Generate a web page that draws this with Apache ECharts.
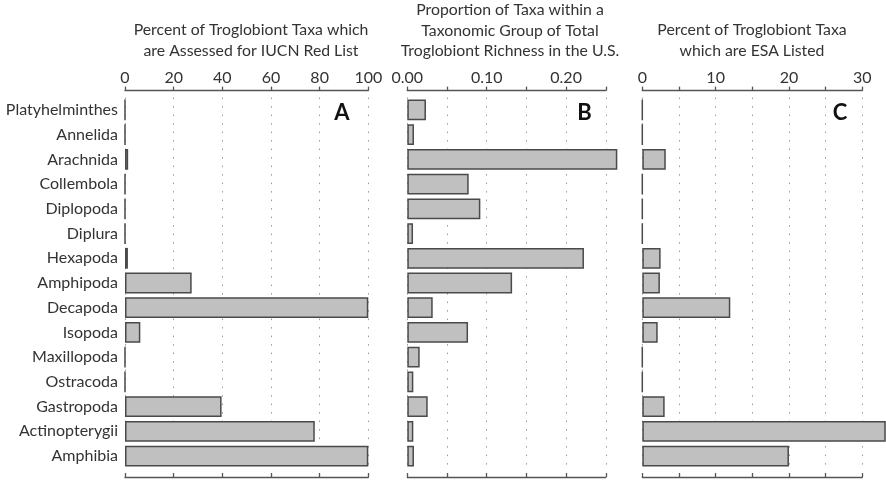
<!DOCTYPE html>
<html>
<head>
<meta charset="utf-8">
<script src="https://cdn.jsdelivr.net/npm/echarts@6/dist/echarts.min.js"></script>
<style>html,body{margin:0;padding:0;background:#fff}#c{width:886px;height:482px}</style>
</head>
<body>
<div id="c"></div>
<script>
var categories = ['Platyhelminthes','Annelida','Arachnida','Collembola','Diplopoda','Diplura','Hexapoda','Amphipoda','Decapoda','Isopoda','Maxillopoda','Ostracoda','Gastropoda','Actinopterygii','Amphibia'];
var iucnPercent = [0, 0, 1.3, 0, 0, 0, 1.2, 27.4, 100, 6.3, 0, 0, 39.7, 78.0, 100];
var richnessProportion = [0.0235, 0.0084, 0.2645, 0.0773, 0.092, 0.0072, 0.2225, 0.132, 0.032, 0.0765, 0.0156, 0.0076, 0.0257, 0.0076, 0.0084];
var esaPercent = [0, 0, 3.2, 0, 0, 0, 2.5, 2.4, 12.0, 2.1, 0, 0, 3.05, 33.2, 20.0];
var titleA = 'Percent of Troglobiont Taxa which\nare Assessed for IUCN Red List';
var titleB = 'Proportion of Taxa within a\nTaxonomic Group of Total\nTroglobiont Richness in the U.S.';
var titleC = 'Percent of Troglobiont Taxa\nwhich are ESA Listed';
var panelLetters = ['A', 'B', 'C'];

var FONT = 'Lato';
var TXT = '#333';
var grids = [
  {left: 125, width: 243.3, top: 97.6, bottom: 13.6},
  {left: 407.3, width: 198.5, top: 97.6, bottom: 13.6},
  {left: 642.3, width: 220, top: 97.6, bottom: 13.6}
];
var axisCfg = [
  {max: 100, interval: 20, fmt: function (v) { return String(v); }},
  {max: 0.25, interval: 0.05, fmt: function (v) { var k = Math.round(v * 100); return k % 10 === 0 ? v.toFixed(2) : ''; }},
  {max: 30, interval: 5, fmt: function (v) { return v % 10 === 0 ? String(v) : ''; }}
];
var xAxes = [], yAxes = [], series = [];
var dataSets = [iucnPercent, richnessProportion, esaPercent];
for (var i = 0; i < 3; i++) {
  xAxes.push({
    type: 'value', gridIndex: i, position: 'top', min: 0, max: axisCfg[i].max, interval: axisCfg[i].interval,
    offset: 7,
    axisLine: {show: true, lineStyle: {color: '#555', width: 1.3}},
    axisTick: {show: true, inside: false, length: 4, lineStyle: {color: '#555', width: 1.3}},
    axisLabel: {show: true, formatter: axisCfg[i].fmt, fontFamily: FONT, fontSize: 16, color: TXT, margin: 5},
    splitLine: {show: true, lineStyle: {type: [1.5, 7], color: '#999', width: 1}}
  });
  xAxes.push({
    type: 'value', gridIndex: i, position: 'bottom', min: 0, max: axisCfg[i].max, interval: axisCfg[i].interval,
    offset: 8.6,
    axisLine: {show: true, lineStyle: {color: '#555', width: 1.3}},
    axisTick: {show: true, inside: true, length: 4, lineStyle: {color: '#555', width: 1.3}},
    axisLabel: {show: false},
    splitLine: {show: false}
  });
  yAxes.push({
    type: 'category', gridIndex: i, data: categories, inverse: true,
    axisLine: {show: false}, axisTick: {show: false},
    axisLabel: {show: i === 0, fontFamily: FONT, fontSize: 16, color: TXT, margin: 7}
  });
  series.push({
    type: 'bar', xAxisIndex: i * 2, yAxisIndex: i, data: dataSets[i], barWidth: '84%', clip: false,
    itemStyle: {color: '#c0c0c0', borderColor: '#4a4a4a', borderWidth: 1.5},
    silent: true, animation: false
  });
}
var titleStyle = {fontFamily: FONT, fontSize: 15.8, fontWeight: 'normal', color: TXT, lineHeight: 20.5};
var letterStyle = {fontFamily: FONT, fontSize: 22, fontWeight: 'bold', color: '#111'};
var option = {
  animation: false,
  title: [
    {text: titleA, left: 251, top: 20, textAlign: 'center', textStyle: titleStyle, padding: 0},
    {text: titleB, left: 510, top: 0, textAlign: 'center', textStyle: titleStyle, padding: 0},
    {text: titleC, left: 752, top: 20, textAlign: 'center', textStyle: titleStyle, padding: 0},
    {text: panelLetters[0], left: 342, top: 102, textAlign: 'center', textStyle: letterStyle, padding: 0},
    {text: panelLetters[1], left: 584.5, top: 102, textAlign: 'center', textStyle: letterStyle, padding: 0},
    {text: panelLetters[2], left: 840, top: 102, textAlign: 'center', textStyle: letterStyle, padding: 0}
  ],
  grid: grids,
  xAxis: xAxes,
  yAxis: yAxes,
  series: series
};
var chart = echarts.init(document.getElementById('c'), null, {renderer: 'canvas'});
chart.setOption(option);
</script>
</body>
</html>
